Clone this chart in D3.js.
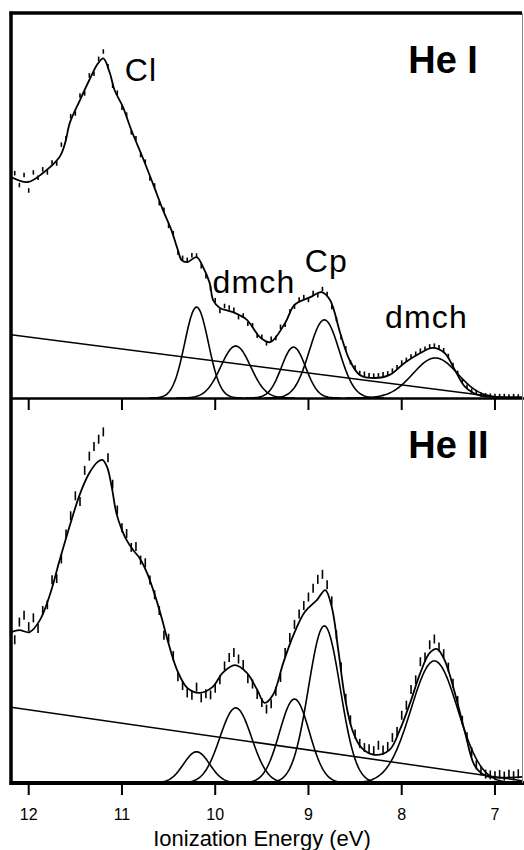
<!DOCTYPE html>
<html lang="en">
<head>
<meta charset="UTF-8" />
<title>He I / He II photoelectron spectra</title>
<script src="https://cdn.jsdelivr.net/npm/d3@7"></script>
<style>
  body { margin: 0; background: #fff; }
  svg { display: block; font-family: "Liberation Sans", Arial, sans-serif; }
</style>
</head>
<body>
<svg id="chart" width="524" height="850"></svg>
<script>
// energy grid of the measured points (eV)
const energies = [
  12.15, 12.10, 12.05, 12.00, 11.95, 11.90, 11.85, 11.80, 11.75, 11.70,
  11.65, 11.60, 11.55, 11.50, 11.45, 11.40, 11.35, 11.30, 11.25, 11.20,
  11.15, 11.10, 11.05, 11.00, 10.95, 10.90, 10.85, 10.80, 10.75, 10.70,
  10.65, 10.60, 10.55, 10.50, 10.45, 10.40, 10.35, 10.30, 10.25, 10.20,
  10.15, 10.10, 10.05, 10.00, 9.95, 9.90, 9.85, 9.80, 9.75, 9.70,
  9.65, 9.60, 9.55, 9.50, 9.45, 9.40, 9.35, 9.30, 9.25, 9.20,
  9.15, 9.10, 9.05, 9.00, 8.95, 8.90, 8.85, 8.80, 8.75, 8.70,
  8.65, 8.60, 8.55, 8.50, 8.45, 8.40, 8.35, 8.30, 8.25, 8.20,
  8.15, 8.10, 8.05, 8.00, 7.95, 7.90, 7.85, 7.80, 7.75, 7.70,
  7.65, 7.60, 7.55, 7.50, 7.45, 7.40, 7.35, 7.30, 7.25, 7.20,
  7.15, 7.10, 7.05, 7.00, 6.95, 6.90, 6.85, 6.80, 6.75
];

// measured counts (arb. units, 100 = panel height)
const heIData = [
  58.4, 55.3, 57.9, 53.9, 58.6, 57.2, 59.4, 58.6, 61.2, 60.9,
  65.8, 67.5, 73.2, 73.9, 78.6, 79.1, 83.8, 84.2, 88.1, 90.0,
  86.2, 81.1, 79.3, 75.4, 73.6, 69.0, 67.5, 63.1, 61.4, 57.0,
  55.2, 50.6, 48.9, 44.7, 42.8, 37.8, 36.4, 35.9, 37.1, 37.0,
  34.2, 31.6, 28.5, 25.4, 22.6, 23.9, 23.5, 22.9, 21.0, 21.4,
  19.3, 18.9, 16.2, 15.9, 14.2, 15.4, 15.6, 18.5, 19.0, 22.5,
  23.7, 25.6, 26.2, 25.5, 27.3, 26.7, 28.3, 27.0, 23.6, 20.5,
  15.8, 12.9, 9.3, 7.9, 6.5, 6.3, 5.9, 5.8, 5.9, 6.2,
  6.4, 7.1, 8.0, 9.2, 9.9, 10.8, 11.5, 12.3, 12.8, 13.4,
  13.6, 13.2, 12.4, 10.9, 8.6, 6.5, 4.4, 2.9, 1.9, 1.3,
  0.9, 0.7, 0.6, 0.5, 0.5, 0.5, 0.4, 0.5, 0.4
];
const heIIData = [
  37.2, 41.8, 43.6, 40.6, 42.9, 40.1, 44.8, 46.3, 52.8, 53.1,
  58.2, 64.7, 69.4, 74.6, 73.1, 81.2, 84.9, 87.4, 89.3, 91.2,
  84.5, 77.6, 70.9, 66.3, 64.8, 61.2, 61.4, 57.9, 57.2, 52.7,
  48.9, 44.8, 38.4, 37.6, 33.1, 27.6, 25.3, 23.4, 22.8, 24.9,
  22.1, 23.2, 22.9, 24.6, 26.8, 30.4, 32.6, 33.9, 32.2, 30.8,
  27.1, 25.7, 23.0, 20.9, 19.2, 20.6, 23.8, 27.4, 33.9, 37.8,
  41.2, 43.9, 46.1, 48.3, 50.6, 52.9, 54.2, 51.5, 47.3, 38.5,
  30.2, 22.0, 16.4, 12.7, 10.3, 9.2, 8.9, 8.4, 9.8, 8.6,
  9.5, 11.8, 13.4, 17.6, 20.2, 24.3, 26.8, 31.5, 32.7, 35.9,
  37.4, 35.3, 33.6, 30.1, 25.9, 21.4, 16.3, 12.0, 8.1, 4.7,
  3.2, 2.3, 2.1, 1.9, 2.2, 1.8, 2.3, 1.9, 2.4
];

// fitted envelope [eV, intensity]
const heIFit = [
  [12.19, 57.4], [12.01, 56.1], [11.85, 58.4], [11.67, 62.6], [11.61, 66.2],
  [11.56, 71.4], [11.45, 77.4], [11.35, 82.6], [11.26, 86.8], [11.20, 88.2],
  [11.13, 84.4], [11.08, 80.0], [10.99, 75.6], [10.90, 69.6], [10.78, 62.6],
  [10.67, 55.8], [10.56, 48.8], [10.47, 43.6], [10.40, 38.4], [10.36, 35.8],
  [10.30, 35.3], [10.20, 36.6], [10.13, 34.0], [10.06, 29.9], [10.02, 25.3],
  [9.95, 23.4], [9.81, 22.3], [9.66, 20.3], [9.52, 15.8], [9.41, 14.5],
  [9.25, 19.5], [9.15, 24.2], [8.98, 26.2], [8.86, 27.5], [8.77, 25.5],
  [8.66, 16.9], [8.56, 9.9], [8.45, 6.0], [8.29, 5.2], [8.13, 6.0],
  [7.97, 9.1], [7.80, 11.7], [7.67, 13.0], [7.54, 11.7], [7.43, 7.3],
  [7.32, 2.9], [7.18, 0.8], [7.00, 0.3], [6.71, 0.3]
];
const heIIFit = [
  [12.19, 39.2], [12.10, 39.7], [11.99, 39.2], [11.88, 42.3], [11.77, 49.1],
  [11.67, 57.7], [11.56, 66.8], [11.45, 75.1], [11.35, 80.5], [11.26, 83.4],
  [11.21, 83.9], [11.16, 82.1], [11.11, 76.9], [11.06, 70.1], [11.00, 65.7],
  [10.95, 63.1], [10.88, 60.5], [10.81, 58.4], [10.73, 54.5], [10.63, 47.5],
  [10.56, 41.6], [10.52, 37.9], [10.41, 29.4], [10.30, 24.7], [10.17, 23.4],
  [10.03, 24.9], [9.92, 28.6], [9.79, 30.6], [9.66, 28.6], [9.55, 24.2],
  [9.47, 20.8], [9.38, 22.9], [9.27, 31.2], [9.17, 37.9], [9.04, 44.4],
  [8.91, 47.5], [8.82, 50.1], [8.75, 45.7], [8.68, 34.5], [8.61, 22.3],
  [8.53, 13.8], [8.43, 9.1], [8.29, 7.3], [8.13, 8.6], [8.02, 13.8],
  [7.91, 20.8], [7.80, 28.6], [7.70, 33.8], [7.62, 34.8], [7.54, 31.9],
  [7.43, 23.4], [7.32, 13.0], [7.21, 4.2], [7.09, 1.8], [6.71, 1.6]
];

// gaussian bands [centre eV, height, sigma eV]
const heIBands = [
  [10.20, 23.6, 0.127], [9.78, 13.5, 0.16], [9.16, 13.2, 0.13],
  [8.83, 20.3, 0.16], [7.64, 10.4, 0.24]
];
const heIIBands = [
  [10.20, 8.1, 0.14], [9.78, 19.5, 0.17], [9.15, 21.8, 0.16],
  [8.83, 40.8, 0.17], [7.65, 31.7, 0.25]
];

// linear background [eV, intensity] at both ends
const heIBackground = [[12.19, 16.4], [6.71, -0.6]];
const heIIBackground = [[12.19, 19.7], [6.71, 0.6]];

const xTicks = [12, 11, 10, 9, 8, 7];

const svg = d3.select("#chart");
const x = d3.scaleLinear().domain([12.19, 6.71]).range([11, 522]);

const panels = [
  { id: "he1", title: "He I", data: heIData, fit: heIFit, bands: heIBands,
    bg: heIBackground, top: 13, bottom: 398, dash: 4.5 },
  { id: "he2", title: "He II", data: heIIData, fit: heIIFit, bands: heIIBands,
    bg: heIIBackground, top: 398, bottom: 783, dash: 9 }
];

const defs = svg.append("defs");

panels.forEach(p => {
  const y = d3.scaleLinear().domain([0, 100]).range([p.bottom, p.top]);
  p.y = y;

  defs.append("clipPath").attr("id", "clip-" + p.id)
    .append("rect")
    .attr("x", x.range()[0]).attr("y", p.top)
    .attr("width", x.range()[1] - x.range()[0])
    .attr("height", p.bottom - p.top);

  const g = svg.append("g").attr("clip-path", `url(#clip-${p.id})`);

  // background line
  g.append("line")
    .attr("x1", x(p.bg[0][0])).attr("y1", y(p.bg[0][1]))
    .attr("x2", x(p.bg[1][0])).attr("y2", y(p.bg[1][1]))
    .attr("stroke", "#000").attr("stroke-width", 1.5);

  // gaussian components
  const line = d3.line().x(d => x(d[0])).y(d => y(d[1]));
  p.bands.forEach(([c, h, s]) => {
    const pts = d3.range(c + 4 * s, c - 4 * s, -0.01)
      .map(e => [e, h * Math.exp(-((e - c) ** 2) / (2 * s * s))]);
    g.append("path").attr("d", line(pts))
      .attr("fill", "none").attr("stroke", "#000").attr("stroke-width", 1.6);
  });

  // measured points drawn as short vertical dashes
  g.selectAll("line.pt")
    .data(p.data)
    .join("line")
    .attr("class", "pt")
    .attr("x1", (d, i) => x(energies[i])).attr("x2", (d, i) => x(energies[i]))
    .attr("y1", d => y(d) - p.dash / 2).attr("y2", d => y(d) + p.dash / 2)
    .attr("stroke", "#000").attr("stroke-width", 1.6);

  // fitted envelope
  g.append("path")
    .attr("d", line.curve(d3.curveCatmullRom.alpha(0.5))(p.fit))
    .attr("fill", "none").attr("stroke", "#000").attr("stroke-width", 1.8);

  // panel title
  svg.append("text")
    .attr("x", x(7.93)).attr("y", y(84.5))
    .attr("font-size", 38).attr("font-weight", "bold")
    .text(p.title);

  // ticks below each panel's axis
  svg.append("g").selectAll("line")
    .data(xTicks)
    .join("line")
    .attr("x1", d => x(d)).attr("x2", d => x(d))
    .attr("y1", p.bottom).attr("y2", p.bottom + 12)
    .attr("stroke", "#000").attr("stroke-width", 2);
});

// band labels in the He I panel
const yI = panels[0].y;
const labels = [
  { text: "Cl", e: 10.97, v: 82.3 },
  { text: "dmch", e: 10.03, v: 27.3 },
  { text: "Cp", e: 9.04, v: 32.7 },
  { text: "dmch", e: 8.18, v: 18.2 }
];
svg.append("g").selectAll("text")
  .data(labels)
  .join("text")
  .attr("x", d => x(d.e)).attr("y", d => yI(d.v))
  .attr("font-size", 32).attr("letter-spacing", 1.2)
  .text(d => d.text);

// frame
svg.append("line").attr("x1", 9.5).attr("x2", 522).attr("y1", 13).attr("y2", 13)
  .attr("stroke", "#000").attr("stroke-width", 3.5);
svg.append("line").attr("x1", 11).attr("x2", 11).attr("y1", 11.5).attr("y2", 785)
  .attr("stroke", "#000").attr("stroke-width", 3.5);
svg.append("line").attr("x1", 11).attr("x2", 524).attr("y1", 398.5).attr("y2", 398.5)
  .attr("stroke", "#000").attr("stroke-width", 2.5);
svg.append("line").attr("x1", 9.5).attr("x2", 524).attr("y1", 783).attr("y2", 783)
  .attr("stroke", "#000").attr("stroke-width", 4);
svg.append("line").attr("x1", 522.5).attr("x2", 522.5).attr("y1", 13).attr("y2", 783)
  .attr("stroke", "#888").attr("stroke-width", 1);

// x axis labels
svg.append("g").selectAll("text")
  .data(xTicks)
  .join("text")
  .attr("x", d => x(d)).attr("y", 820)
  .attr("text-anchor", "middle").attr("font-size", 16)
  .text(d => d);

svg.append("text")
  .attr("x", 262).attr("y", 846)
  .attr("text-anchor", "middle").attr("font-size", 22)
  .text("Ionization Energy (eV)");
</script>
</body>
</html>
